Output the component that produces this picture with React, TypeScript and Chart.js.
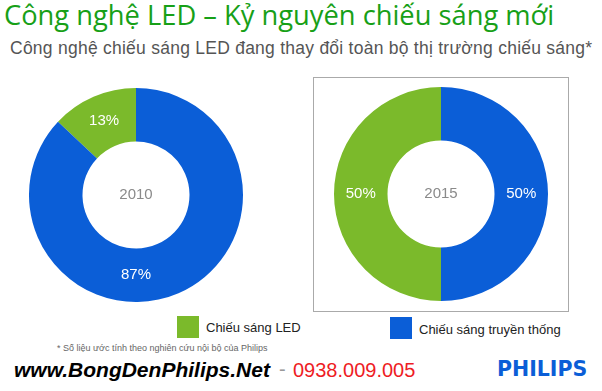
import React, { useEffect, useRef } from "react";
import { Chart, registerables } from "chart.js";

Chart.register(...registerables);

const categories = ["Chiếu sáng LED", "Chiếu sáng truyền thống"];
const years = ["2010", "2015"];
const values2010 = [13, 87];
const values2015 = [50, 50];
const colors = ["#7bba2b", "#0b5ed7"];

const titleText = "Công nghệ LED – Kỷ nguyên chiếu sáng mới";
const subtitleText = "Công nghệ chiếu sáng LED đang thay đổi toàn bộ thị trường chiếu sáng*";
const footnoteText = "* Số liệu ước tính theo nghiên cứu nội bộ của Philips";

const labelPlugin = {
  id: "sliceLabels",
  afterDatasetsDraw(chart: any, _args: any, opts: any) {
    const ctx = chart.ctx;
    const meta = chart.getDatasetMeta(0);
    const data = chart.data.datasets[0].data as number[];
    const total = data.reduce((a, b) => a + b, 0);
    ctx.save();
    ctx.fillStyle = "#ffffff";
    ctx.font = "15px 'Liberation Sans', Arial, sans-serif";
    ctx.textAlign = "center";
    ctx.textBaseline = "middle";
    meta.data.forEach((arc: any, i: number) => {
      const p = arc.getProps(["x", "y", "startAngle", "endAngle", "innerRadius", "outerRadius"], true);
      let ang = (p.startAngle + p.endAngle) / 2;
      const ov = opts.angles ? opts.angles[i] : null;
      if (ov !== null && ov !== undefined) ang = (ov - 90) * Math.PI / 180;
      const r = (p.innerRadius + p.outerRadius) / 2;
      const pct = Math.round((data[i] / total) * 100) + "%";
      ctx.fillText(pct, p.x + Math.cos(ang) * r, p.y + Math.sin(ang) * r);
    });
    const a0: any = meta.data[0];
    ctx.fillStyle = "#8a8a8a";
    ctx.font = "15px 'Liberation Sans', Arial, sans-serif";
    ctx.fillText(opts.center, a0.x, a0.y);
    ctx.restore();
  },
};

function Donut({ values, year, angles, style }: { values: number[]; year: string; angles: (number | null)[]; style: React.CSSProperties }) {
  const ref = useRef<HTMLCanvasElement>(null);
  useEffect(() => {
    if (!ref.current) return;
    const total = values.reduce((a, b) => a + b, 0);
    const chart = new Chart(ref.current, {
      type: "doughnut",
      data: {
        labels: categories,
        datasets: [
          {
            data: values,
            backgroundColor: colors,
            borderWidth: 0,
          },
        ],
      },
      options: {
        responsive: false,
        maintainAspectRatio: false,
        animation: false,
        cutout: "50%",
        rotation: -(values[0] / total) * 360,
        layout: { padding: 0 },
        plugins: {
          legend: { display: false },
          tooltip: { enabled: false },
          sliceLabels: { center: year, angles },
        } as any,
      },
      plugins: [labelPlugin],
    });
    return () => chart.destroy();
  }, []);
  return <canvas ref={ref} width={214} height={214} style={{ position: "absolute", ...style }} />;
}

const abs = (o: React.CSSProperties): React.CSSProperties => ({ position: "absolute", whiteSpace: "nowrap", margin: 0, ...o });

export default function App() {
  const sans = "'Liberation Sans', Arial, sans-serif";
  return (
    <div style={{ position: "absolute", left: 0, top: 0, width: 602, height: 391, background: "#fff", overflow: "hidden" }}>
      <div style={abs({ left: 4, top: 1, fontFamily: "'Open Sans', sans-serif", fontSize: 27.3, lineHeight: "27px", color: "#17a017" })}>
        {titleText}
      </div>
      <div style={abs({ left: 10, top: 40, fontFamily: sans, fontSize: 17.5, lineHeight: "17px", letterSpacing: 0.25, color: "#555555" })}>
        {subtitleText}
      </div>
      <div style={abs({ left: 313, top: 77, width: 254, height: 233, border: "1px solid #aaaaaa" })} />
      <Donut values={values2010} year={years[0]} angles={[null, 180]} style={{ left: 29, top: 88 }} />
      <Donut values={values2015} year={years[1]} angles={[null, null]} style={{ left: 334, top: 87 }} />

      <div style={abs({ left: 177, top: 316, width: 22, height: 22, background: colors[0] })} />
      <div style={abs({ left: 206, top: 321, fontFamily: sans, fontSize: 13, lineHeight: "13px", color: "#222" })}>{categories[0]}</div>
      <div style={abs({ left: 390, top: 317, width: 22, height: 22, background: colors[1] })} />
      <div style={abs({ left: 419, top: 323, fontFamily: sans, fontSize: 13, lineHeight: "13px", color: "#222" })}>{categories[1]}</div>

      <div style={abs({ left: 57, top: 344, fontFamily: sans, fontSize: 9, lineHeight: "9px", color: "#666" })}>{footnoteText}</div>

      <div style={abs({ left: 14, top: 359, fontFamily: sans, fontSize: 21, lineHeight: "21px", fontWeight: "bold", fontStyle: "italic", color: "#000" })}>
        www.BongDenPhilips.Net
      </div>
      <div style={abs({ left: 279, top: 359, fontFamily: sans, fontSize: 20, lineHeight: "21px", color: "#999" })}>-</div>
      <div style={abs({ left: 293, top: 360, fontFamily: sans, fontSize: 20, lineHeight: "20px", color: "#ee1c25" })}>0938.009.005</div>
      <div style={abs({ left: 497, top: 359, fontFamily: "'DejaVu Sans', sans-serif", fontSize: 20.5, lineHeight: "21px", fontWeight: "bold", color: "#0b5ed7" })}>
        PHILIPS
      </div>
    </div>
  );
}
